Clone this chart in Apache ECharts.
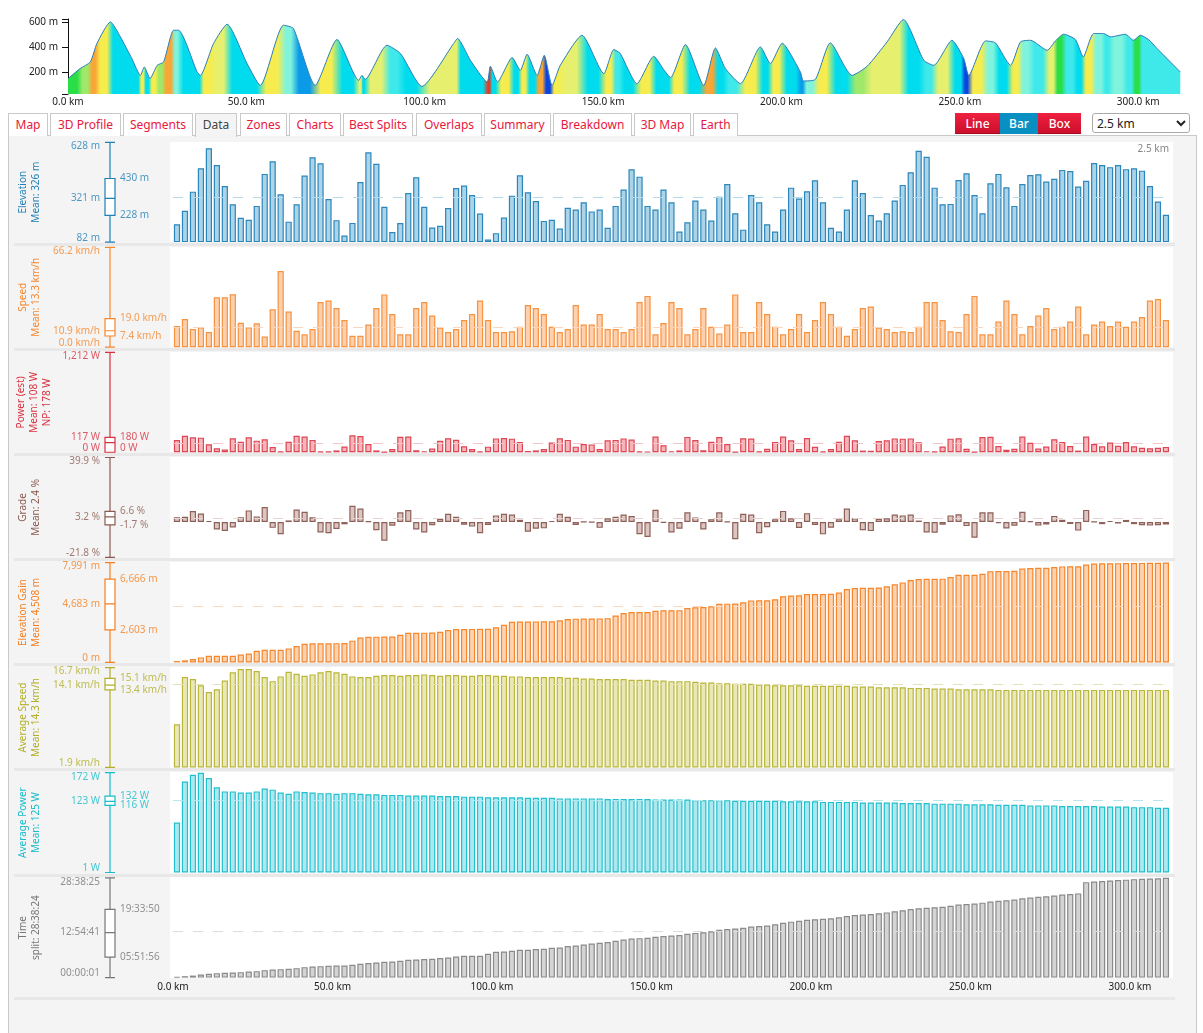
<!DOCTYPE html>
<html><head><meta charset="utf-8">
<script src="https://cdn.jsdelivr.net/npm/echarts@6/dist/echarts.min.js"></script>
<style>
html,body{margin:0;padding:0;}
body{width:1203px;height:1033px;overflow:hidden;background:#fff;font-family:"Noto Sans",sans-serif;position:relative;}
.tab{position:absolute;top:113px;height:23px;box-sizing:border-box;border:1px solid #c9c9c9;border-bottom:none;background:#fff;color:#e8173c;font-size:12px;line-height:21px;text-align:center;z-index:3;}
.tab.sel{background:#f4f4f4;color:#444;height:24px;}
.btn{position:absolute;top:113px;height:21px;color:#fff;font-size:12px;line-height:21px;text-align:center;font-weight:500;}
.red{background:linear-gradient(#ef2040,#cc0f2c);border-bottom:1px solid #a80a22;box-sizing:border-box;}
.blue{background:#0a8fc2;}
#sel{position:absolute;left:1092px;top:113px;width:98px;height:20px;font-size:12px;font-family:"Noto Sans",sans-serif;border:1px solid #aaa;border-radius:3px;background:#fff;color:#222;}
#container{position:absolute;left:8px;top:135px;width:1189px;height:898px;background:#f4f4f4;border:1px solid #c9c9c9;border-bottom:none;box-sizing:border-box;}
.pbg{position:absolute;left:170px;width:1003px;background:#fff;}
.sep{position:absolute;left:14px;width:1161px;height:3px;background:#e8e8e8;}
#chart{position:absolute;left:0;top:0;width:1203px;height:1033px;z-index:5;}
</style></head>
<body>
<div id="container"></div>
<div class="tab" style="left:8px;width:40px">Map</div>
<div class="tab" style="left:50px;width:71px">3D Profile</div>
<div class="tab" style="left:123px;width:70px">Segments</div>
<div class="tab sel" style="left:195px;width:42px">Data</div>
<div class="tab" style="left:240px;width:47px">Zones</div>
<div class="tab" style="left:289px;width:52px">Charts</div>
<div class="tab" style="left:343px;width:70px">Best Splits</div>
<div class="tab" style="left:416px;width:66px">Overlaps</div>
<div class="tab" style="left:484px;width:67px">Summary</div>
<div class="tab" style="left:553px;width:79px">Breakdown</div>
<div class="tab" style="left:634px;width:57px">3D Map</div>
<div class="tab" style="left:693px;width:45px">Earth</div>
<div class="btn red" style="left:955px;width:45px">Line</div>
<div class="btn blue" style="left:1000px;width:38px">Bar</div>
<div class="btn red" style="left:1038px;width:43px">Box</div>
<select id="sel"><option>2.5 km</option></select>
<div id="bgs"></div>
<div id="chart"></div>
<script>
// ---------------- DATA ----------------
const SPLIT_KM = 2.5;
const TOTAL_KM = 313;
const PROFILE_KM_MAX = 312;
const kmTicks = [0, 50, 100, 150, 200, 250, 300];
const profileTicks = [200, 400, 600];

const profileKm = [0,3.4,6.25,8.1,11.9,14.7,17.9,20.3,21.4,23,25,26.8,29.6,31,36.2,37.1,40.8,44.6,50.2,53.9,60.4,63.2,69.3,75.4,81.5,82.4,83.3,89.4,93.2,99.2,108.1,109.2,112.8,117.5,118.4,120.4,124.5,126.8,128.7,131.5,133.5,135.7,138,144.1,150.2,153,154.8,159.5,164.2,167,168.9,173.1,178.2,181.5,184.3,188.5,194.1,196.9,200.2,205.3,206.2,209.5,213.7,219.8,224,229.6,234.2,239.9,242.7,247.8,251.1,252.5,257.2,260,264.2,267,269.8,274.5,276.8,279.1,282.4,284.6,287.5,290.3,292.2,296.4,298.7,300.6,302.9,305.3,311.8];
const profileElev = [152,232,285,432,605,485,312,178,245,152,258,285,538,538,205,178,432,586,272,98,578,552,98,464,138,178,146,418,352,90,432,472,298,125,250,125,320,218,346,178,338,98,258,498,192,384,352,112,330,224,160,424,98,397,232,112,405,272,434,205,133,146,437,178,250,445,624,298,258,458,312,178,453,437,258,445,458,378,453,506,464,325,512,512,485,506,458,498,464,392,205];

const elevation = [180,253,358,486,595,504,389,289,215,204,
 280,455,524,344,194,289,446,546,513,318,
 202,118,187,411,573,511,275,137,186,350,
 437,275,162,171,268,378,391,339,238,96,
 131,216,336,448,355,307,198,204,156,270,
 260,300,250,260,160,280,370,480,440,280,
 260,370,300,140,190,310,260,200,330,400,
 240,150,340,300,180,140,260,380,320,360,
 420,300,160,140,260,420,350,230,200,240,
 310,395,464,582,549,380,289,291,422,459,
 339,240,404,455,382,280,400,449,453,413,
 428,477,471,386,417,515,504,492,504,481,
 486,473,389,304,231];
const speed = [14.0,18.7,12.0,13.1,10.0,33.1,33.1,35.1,16.2,13.1,
 15.8,7.1,25.1,50.5,23.6,10.9,8.5,12,30,31,
 26,18,7.5,7.5,15,26,35,22,8.5,8.5,
 26,30,21,13,10,12,18,22,31,18,
 10,10,10.5,13.5,28,26,22,13.5,10,12,
 28,15,15,22,12,12,10,12,30,34,
 8.5,16,30,26,8.5,12,26,13.5,9,15,
 35,10,10,30,22,13.5,8.5,12,22,10,
 18,30,22,13.5,7.5,12,26,27,13,12,
 10,10.5,10,13.5,30,30,18,10.5,10,22,
 34,8.5,8.5,17,31,22,8.5,14,21,26,
 12,13.5,17,27,8.5,15,17,14,17,13.5,
 17,20,31,32,18];
const power = [149,201,182,177,97,48,32,170,128,182,
 141,158,64,7,128,201,190,150,10,9,
 22,70,205,198,100,22,5,40,188,192,
 24,12,45,140,170,152,72,40,10,68,
 168,172,165,125,15,22,38,118,170,150,
 68,100,95,40,145,150,168,155,10,6,
 190,85,12,22,186,148,24,128,185,100,
 5,170,166,10,42,125,192,145,38,172,
 66,10,40,126,200,146,20,18,135,146,
 168,165,168,120,12,10,70,165,170,42,
 5,185,188,75,30,42,190,115,45,70,
 158,124,75,20,192,100,72,118,78,124,
 72,55,48,55,65];
const grade = [2.9,3.2,6.8,5.3,0.7,-4.6,-5.5,-3.4,3.0,7.2,
 3.5,9.3,-3.6,-7.5,1.0,7.8,6.3,2.9,-6.4,-6.9,
 -4.3,-1.4,10.1,8.3,0.4,-5.1,-11.5,-2.3,6.0,7.4,
 -4.6,-6.4,-2.0,2.0,5.1,3.2,-1.6,-2.8,-6.9,-1.8,
 4.1,5.1,4.6,1.4,-6.0,-4.1,-3.9,0.7,5.1,3.2,
 -1.8,0.1,-0.2,-3.6,2.3,3.2,4.6,3.7,-7.5,-9.2,
 7.6,-0.5,-6.4,-4.1,6.0,2.8,-4.6,1.8,6.0,0.3,
 -10.6,5.1,4.6,-6.9,-3.2,1.8,6.9,2.3,-3.7,5.5,
 -1.8,-7.6,-3.5,1.8,8.3,2.3,-5.1,-5.6,2.0,2.3,
 4.6,4.1,4.6,0.9,-6.4,-6.6,-1.7,4.1,4.8,-2.5,
 -9.7,6.0,6.1,-0.7,-4.0,-2.3,6.4,0.6,-2.2,-1.5,
 3.8,1.4,-1.2,-5.3,7.5,0.2,-1.3,0.7,-0.9,1.3,
 -1.3,-2.0,-2.2,-2.0,-1.5];
const elevationGain = [104,160,264,400,527,527,527,527,630,715,
 927,1007,1007,1010,1119,1314,1482,1525,1530,1535,
 1540,1550,1740,1990,2055,2060,2065,2070,2208,2371,
 2376,2381,2386,2456,2591,2671,2676,2681,2686,2694,
 2813,3018,3248,3268,3276,3283,3291,3299,3365,3469,
 3500,3508,3515,3523,3543,3755,3955,4024,4032,4039,
 4128,4166,4174,4182,4351,4420,4428,4497,4697,4704,
 4712,4812,4962,4970,4978,5059,5297,5359,5366,5466,
 5474,5481,5489,5589,5870,5959,5967,5975,5987,6099,
 6253,6406,6595,6680,6687,6695,6703,6838,7007,7015,
 7022,7088,7303,7311,7319,7339,7508,7561,7569,7577,
 7643,7686,7693,7701,7832,7920,7928,7936,7944,7951,
 7959,7967,7974,7982,7991];
const averageSpeed = [8.3,15.3,15.0,14.1,13.1,13.5,14.8,16.0,16.5,16.5,
 16.2,15.3,14.7,15.4,16.1,15.8,15.5,15.7,16.0,16.2,
 16.0,15.8,15.4,15.3,15.3,15.5,15.6,15.6,15.5,15.6,
 15.6,15.7,15.6,15.5,15.6,15.6,15.5,15.5,15.6,15.6,
 15.5,15.5,15.4,15.4,15.3,15.3,15.3,15.3,15.3,15.2,
 15.2,15.1,15.1,15.0,15.0,15.0,15.0,14.9,14.9,14.9,
 14.8,14.8,14.7,14.7,14.7,14.6,14.5,14.5,14.4,14.4,
 14.3,14.3,14.3,14.2,14.2,14.1,14.1,14.1,14.1,14.0,
 14.0,14.0,14.0,14.0,14.0,13.9,13.9,13.9,13.8,13.8,
 13.8,13.8,13.7,13.7,13.7,13.6,13.6,13.6,13.5,13.5,
 13.5,13.5,13.5,13.4,13.4,13.4,13.4,13.4,13.4,13.4,
 13.4,13.4,13.4,13.4,13.4,13.4,13.4,13.4,13.4,13.4,
 13.4,13.4,13.4,13.4,13.4];
const averagePower = [86.5,157,168.6,172,163,147,140,140,138,138,
 140,145,143,138,136,140,139,138,137,137,
 136,137,137,136,135,135,134,134,134,133,
 133,133,133,132,132,132,131,131,131,130,
 130,130,130,130,129,129,129,129,128,128,
 128,128,128,128,127,127,127,127,127,127,
 126,126,126,126,126,125,125,125,125,125,
 124,124,124,124,124,124,123,123,123,123,
 123,122,122,122,122,122,121,121,121,121,
 121,120,120,120,120,119,119,119,119,118,
 118,118,118,117,117,117,117,116,116,116,
 116,115,115,115,115,115,114,114,114,114,
 113,113,113,112,112];
const timeSplit = [727,1450,2080,3120,3840,4570,4880,5190,5600,6230,
 6650,7680,8310,8720,9030,9760,10800,11420,11840,12150,
 12460,12460,13190,14220,14950,15570,16300,16610,17340,18380,
 18690,19100,19420,20140,20770,21800,22530,22530,22530,24610,
 26680,27000,27720,28760,28760,29490,29800,30840,31150,32534,
 33154,34154,35102,35920,36739,38048,39357,40292,40728,41212,
 42147,42966,43433,44028,45217,46152,46721,47871,49481,50213,
 50750,51394,52736,53291,53887,55037,56731,57804,58699,59680,
 60318,60773,61283,62264,63682,64594,65085,65617,66367,67348,
 68458,69568,70793,71712,72188,72631,73146,74219,75389,76002,
 76478,77397,78684,79399,79824,80648,81846,82724,83418,83925,
 84866,85744,86343,87002,98600,99220,99702,100212,100694,101176,
 101686,102120,102400,102671,103105];

// box statistics: [min, Q1, median, Q3, max]
const elevationStats = [82, 228, 321, 430, 628];
const speedStats = [0.0, 7.4, 10.9, 19.0, 66.2];
const powerStats = [0, 0, 117, 180, 1212];
const gradeStats = [-21.8, -1.7, 3.2, 6.6, 39.9];
const gainStats = [0, 2603, 4683, 6666, 7991];
const avgSpeedStats = [1.9, 13.4, 14.1, 15.1, 16.7];
const avgPowerStats = [1, 116, 123, 132, 172];
const timeStats = [1, 21116, 46481, 70430, 103105];
const means = [326, 13.3, 108, 2.4, 4508, 14.3, 125, 47760];
const titles = ['Elevation\nMean: 326 m','Speed\nMean: 13.3 km/h','Power (est)\nMean: 108 W\nNP: 178 W','Grade\nMean: 2.4 %','Elevation Gain\nMean: 4,508 m','Average Speed\nMean: 14.3 km/h','Average Power\nMean: 125 W','Time\nsplit: 28:38:24'];

// ---------------- FORMATTERS ----------------
const fInt = (u)=>v=>Math.round(v).toLocaleString('en-US')+u;
const fDec = (u)=>v=>v.toFixed(1)+u;
const pad=n=>String(n).padStart(2,'0');
const fTime = v=>{v=Math.round(v);return pad(Math.floor(v/3600))+':'+pad(Math.floor(v%3600/60))+':'+pad(v%60);};

const panels = [
 {data:elevation, stats:elevationStats, color:'#1f7fb6', bar:'#2a86bb', fill:'#abd4e8', dash:'#b3d9ea', fmt:fInt(' m'), gap:57},
 {data:speed, stats:speedStats, color:'#f5862c', bar:'#f7923f', fill:'#fdd1b0', dash:'#fbd6bc', fmt:fDec(' km/h'), gap:57},
 {data:power, stats:powerStats, color:'#d9303e', bar:'#de4654', fill:'#f6b5b9', dash:'#f3c4c8', fmt:fInt(' W'), gap:46, shift:{median:-5,q1:-4}},
 {data:grade, stats:gradeStats, color:'#8a5a50', bar:'#8e6057', fill:'#ddc6c2', dash:'#e4d3d0', fmt:fDec(' %'), gap:57},
 {data:elevationGain, stats:gainStats, color:'#f47f20', bar:'#f5862b', fill:'#fdd2b1', dash:'#fbd8bf', fmt:fInt(' m'), gap:57},
 {data:averageSpeed, stats:avgSpeedStats, color:'#b2ae28', bar:'#bab63a', fill:'#eae8b6', dash:'#e3e1b6', fmt:fDec(' km/h'), gap:57},
 {data:averagePower, stats:avgPowerStats, color:'#17bccb', bar:'#22c0ce', fill:'#abe8ef', dash:'#b4e7ee', fmt:fInt(' W'), gap:57},
 {data:timeSplit, stats:timeStats, color:'#777777', bar:'#8a8a8a', fill:'#d4d4d4', dash:'#dcdcdc', fmt:fTime, gap:57}
];

// ---------------- LAYOUT BACKGROUNDS ----------------
const T0 = 142.3, PITCH = 105.07, H = 99.8;
const bgs = document.getElementById('bgs');
panels.forEach((p,i)=>{
  const w = document.createElement('div'); w.className='pbg';
  w.style.top=(T0-0.6+PITCH*i)+'px'; w.style.height=(H+0.8)+'px'; bgs.appendChild(w);
  const s = document.createElement('div'); s.className='sep';
  s.style.top = (i===panels.length-1 ? 996.5 : (T0+H+1+PITCH*i))+'px'; bgs.appendChild(s);
});

// ---------------- CHART ----------------
const chart = echarts.init(document.getElementById('chart'));
const grid=[], xAxis=[], yAxis=[], series=[];
const FONT = '"Noto Sans", sans-serif';

function gradeColor(g){
  if (g <= -9) return '#0b45e0';
  if (g <= -6.5) return '#0a9ae8';
  if (g <= -3) return '#00dcee';
  if (g <= -1) return '#3fe9ea';
  if (g <= 0.8) return '#80f3dc';
  if (g <= 2) return '#9fe86a';
  if (g <= 3.2) return '#2ade48';
  if (g <= 4.5) return '#e6f06e';
  if (g <= 7.5) return '#f6ec4e';
  if (g <= 9.5) return '#f8a636';
  return '#e63a24';
}
const k0 = profileKm[0], kN = profileKm[profileKm.length-1];
const stops = [];
for (let j=0;j<profileKm.length-1;j++){
  const a=profileKm[j], b=profileKm[j+1];
  const g=(profileElev[j+1]-profileElev[j])/((b-a)*10);
  const c=gradeColor(g), ins=(b-a)*0.25;
  stops.push({offset:(a+ins-k0)/(kN-k0), color:c});
  stops.push({offset:(b-ins-k0)/(kN-k0), color:c});
}
grid.push({left:68, top:19, width:1113, height:75});
xAxis.push({type:'value', gridIndex:0, min:0, max:PROFILE_KM_MAX, axisLine:{show:false}, axisTick:{show:false}, splitLine:{show:false},
  axisLabel:{customValues:kmTicks, formatter:v=>v.toFixed(1)+' km', color:'#222', fontSize:10, fontFamily:FONT, margin:3}});
yAxis.push({type:'value', gridIndex:0, min:29, max:628, splitLine:{show:false},
  axisLine:{show:true, lineStyle:{color:'#111', width:1}},
  axisTick:{show:true, customValues:[29].concat(profileTicks,[628]), length:6, lineStyle:{color:'#111'}},
  axisLabel:{customValues:profileTicks, formatter:v=>v+' m', color:'#222', fontSize:10, fontFamily:FONT, margin:10}});
series.push({type:'line', xAxisIndex:0, yAxisIndex:0, data:profileKm.map((k,j)=>[k,profileElev[j]]), symbol:'none', silent:true, smooth:0.2,
  lineStyle:{color:'#2a7db8', width:1}, areaStyle:{origin:'start', opacity:1, color:new echarts.graphic.LinearGradient(0,0,1,0,stops)}});

panels.forEach((p,i)=>{
  const top = T0 + PITCH*i;
  const [mn,q1,md,q3,mx] = p.stats;
  const last = i===panels.length-1;
  const gb = grid.length; grid.push({left:173, top:top, width:998.5, height:H});
  const xb = xAxis.length;
  xAxis.push({type:'value', gridIndex:gb, min:0, max:TOTAL_KM, show:last, axisLine:{show:false}, axisTick:{show:false}, splitLine:{show:false},
    axisLabel:{customValues:kmTicks, formatter:v=>v.toFixed(1)+' km', color:'#222', fontSize:10, fontFamily:FONT, margin:5}});
  const yb = yAxis.length;
  yAxis.push({type:'value', gridIndex:gb, min:mn, max:mx, startValue:(mn<=0&&mx>=0)?0:mn, show:false, splitLine:{show:false}});
  series.push({type:'bar', xAxisIndex:xb, yAxisIndex:yb, barWidth:6.2, silent:true,
    data:p.data.map((v,k)=>[SPLIT_KM*k+SPLIT_KM/2, v]),
    itemStyle:{color:p.fill, borderColor:p.bar, borderWidth:1.2},
    markLine:{silent:true, symbol:'none', label:{show:false}, animation:false,
      lineStyle:{color:p.dash, type:[10,10], width:1}, data:[{yAxis:means[i]}]}});
  const gx = grid.length; grid.push({left:100, top:top, width:20, height:H});
  const xx = xAxis.length; xAxis.push({type:'category', gridIndex:gx, data:['s'], show:false});
  const yx = yAxis.length;
  yAxis.push({type:'value', gridIndex:gx, min:mn, max:mx, axisLine:{show:false}, axisTick:{show:false}, axisLabel:{show:false}, splitLine:{show:false},
    name:titles[i], nameLocation:'middle', nameRotate:90, nameGap:p.gap,
    nameTextStyle:{color:p.color, fontSize:10, fontFamily:FONT, lineHeight:13}});
  series.push({type:'boxplot', xAxisIndex:xx, yAxisIndex:yx, silent:true, boxWidth:[10,10],
    data:[[mn,q1,md,q3,mx]], itemStyle:{color:'#fff', borderColor:p.color, borderWidth:1.2}});
  const sh = Object.assign({max:4, min:-4, median:0, q1:0, q3:0}, p.shift||{});
  const lab = (v,pos,dy)=>({value:[0,v], label:{show:true, position:pos, distance:9.5, offset:[0,dy], formatter:p.fmt(v), color:p.color, fontSize:10, fontFamily:FONT}});
  series.push({type:'scatter', xAxisIndex:xx, yAxisIndex:yx, silent:true, symbolSize:1, itemStyle:{color:'rgba(0,0,0,0)'}, z:5,
    data:[lab(mx,'left',sh.max), lab(md,'left',sh.median), lab(mn,'left',sh.min), lab(q3,'right',sh.q3), lab(q1,'right',sh.q1)]});
});

chart.setOption({
  animation:false,
  textStyle:{fontFamily:FONT},
  grid:grid, xAxis:xAxis, yAxis:yAxis, series:series,
  graphic:[{type:'text', right:34, top:144, style:{text:'2.5 km', fill:'#888', font:'10px "Noto Sans", sans-serif'}}]
});
</script>
</body></html>
